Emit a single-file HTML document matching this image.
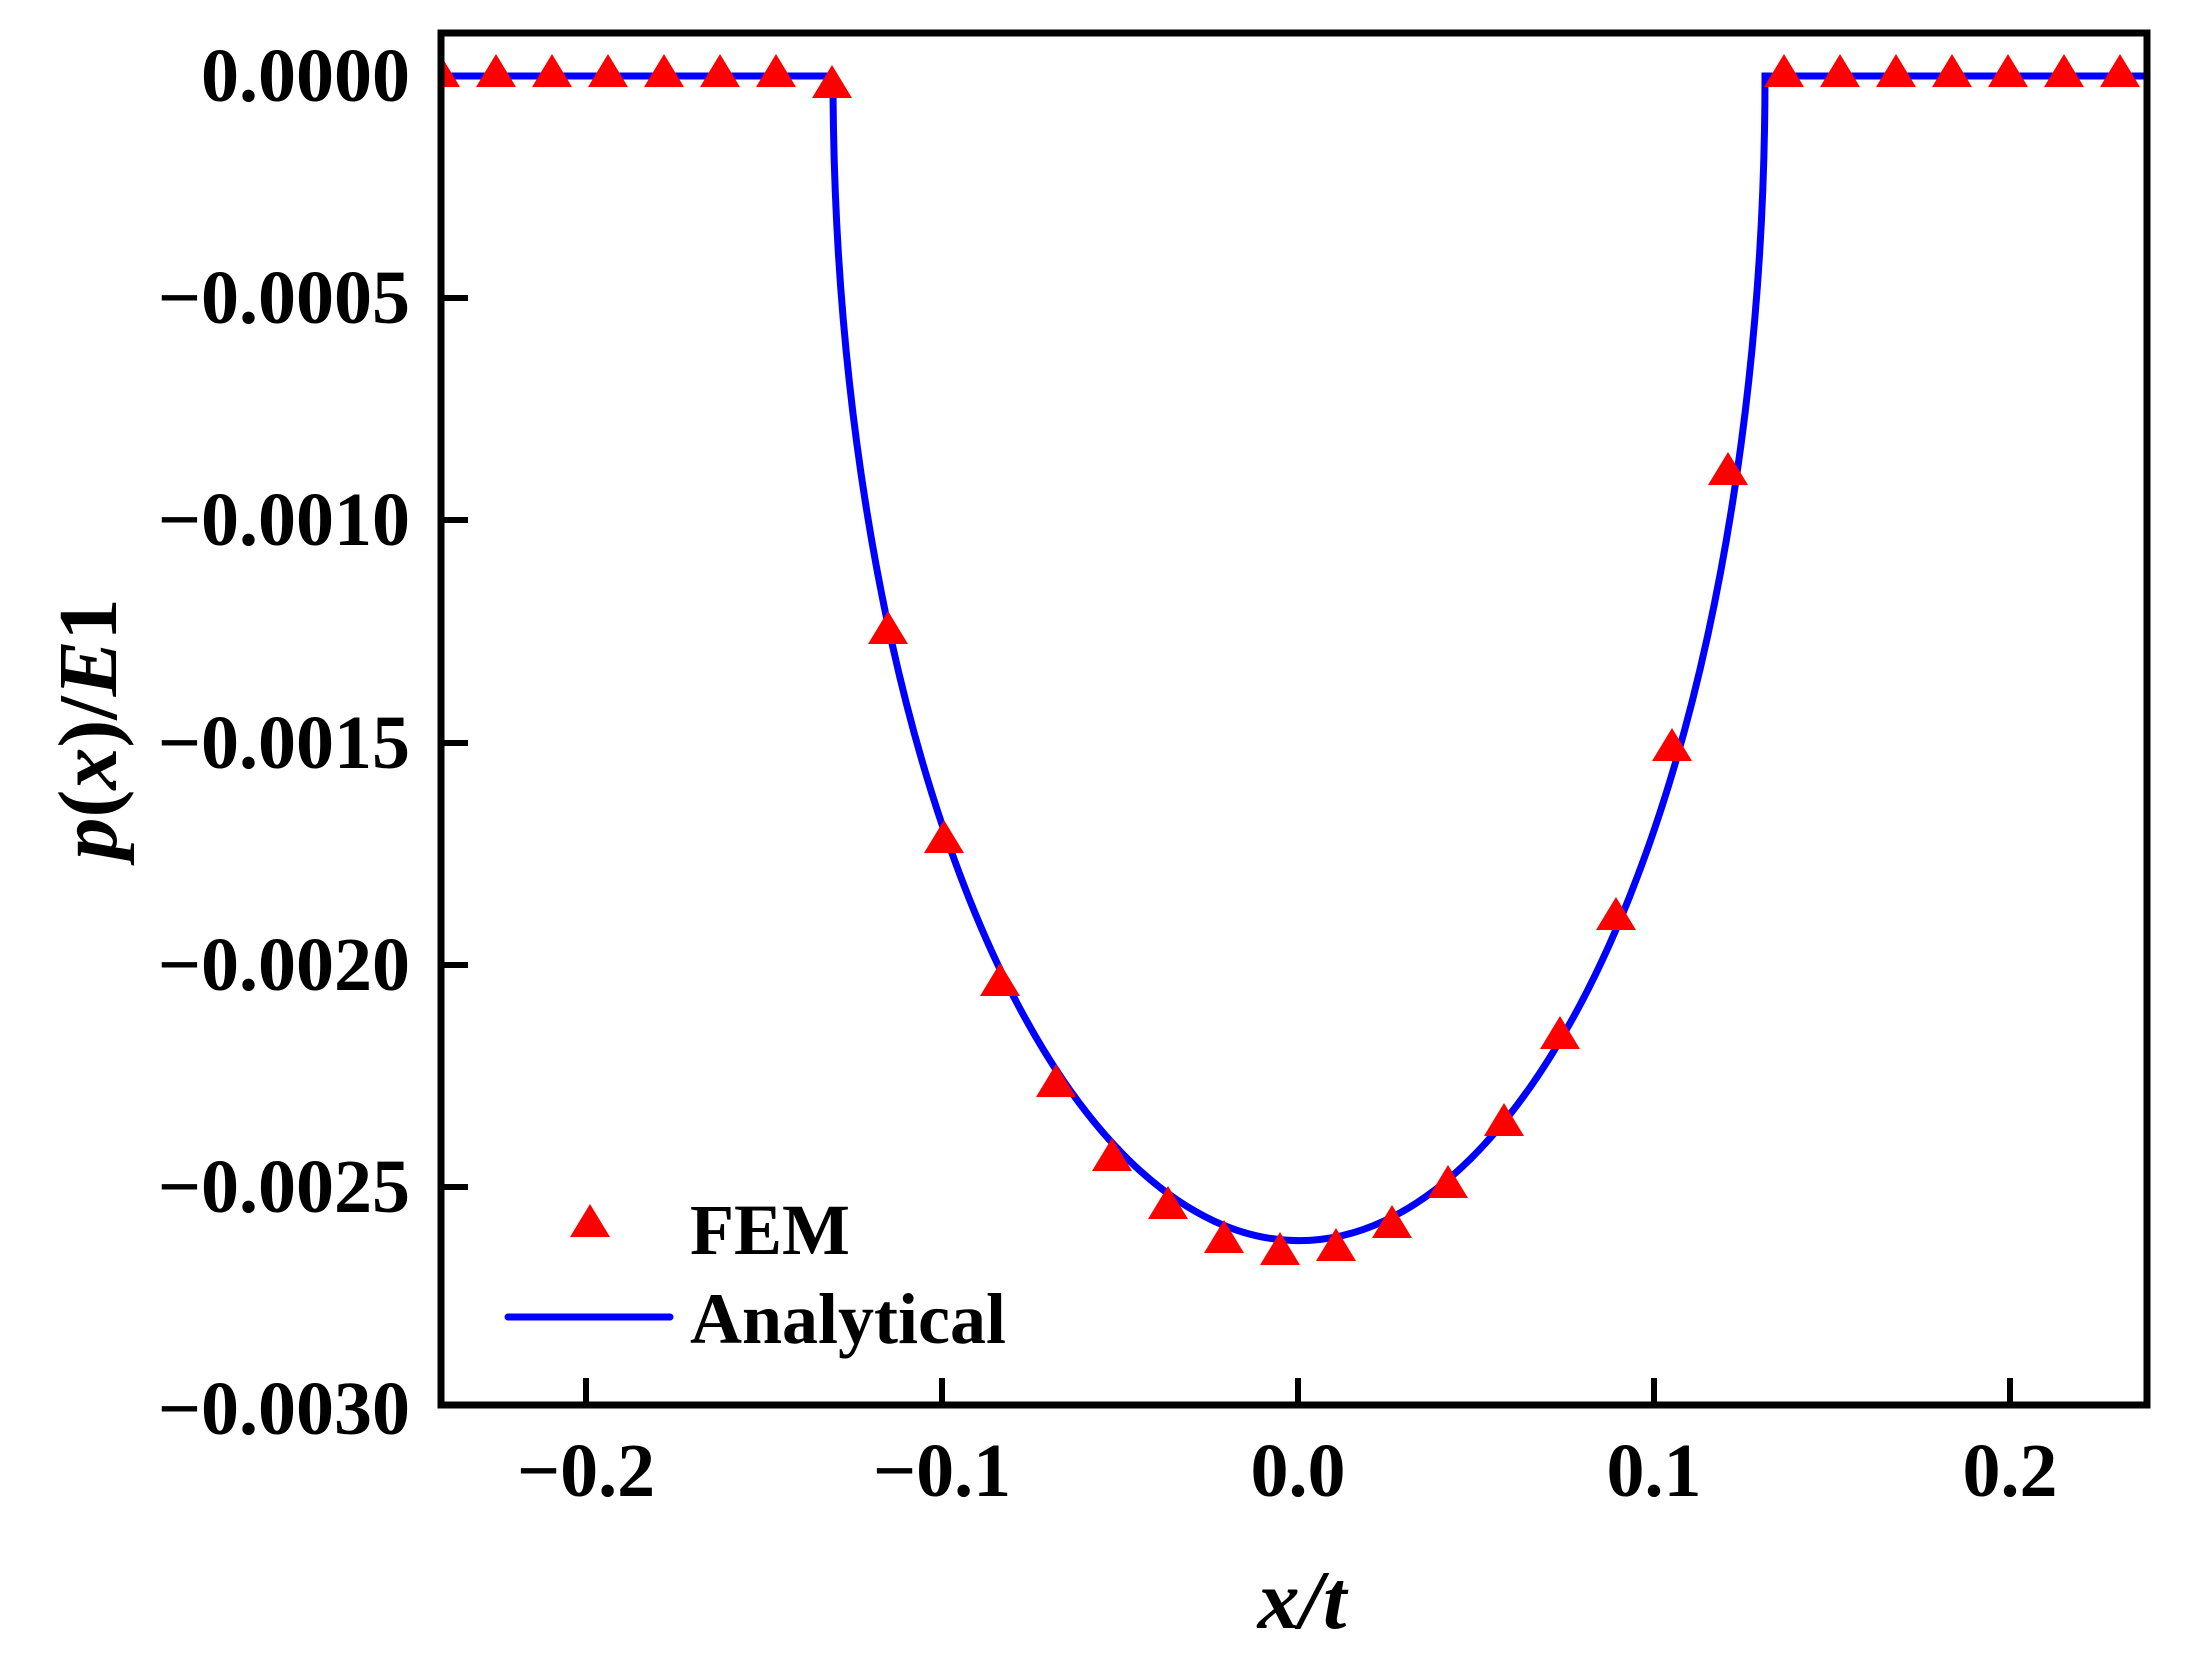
<!DOCTYPE html>
<html><head><meta charset="utf-8"><style>
html,body{margin:0;padding:0;background:#fff;}
svg text{font-family:"Liberation Serif",serif;font-weight:bold;fill:#000;}
</style></head><body>
<svg width="2186" height="1666" viewBox="0 0 2186 1666" xmlns="http://www.w3.org/2000/svg">
<rect width="2186" height="1666" fill="#fff"/>
<defs><clipPath id="c"><rect x="441" y="33" width="1706" height="1372"/></clipPath></defs>
<g clip-path="url(#c)">
<path d="M440 76 H833 A466 1165 0 0 0 1765 76 H2147" fill="none" stroke="#0000ff" stroke-width="7"/>
<g fill="#ff0000">
<path d="M440 54 l20 33 h-40z"/><path d="M496 54 l20 33 h-40z"/><path d="M552 54 l20 33 h-40z"/><path d="M608 54 l20 33 h-40z"/><path d="M664 54 l20 33 h-40z"/><path d="M720 54 l20 33 h-40z"/><path d="M776 54 l20 33 h-40z"/>
<path d="M832 65 l20 33 h-40z"/>
<path d="M888 611 l20 33 h-40z"/>
<path d="M944 820 l20 33 h-40z"/>
<path d="M1000 963 l20 33 h-40z"/>
<path d="M1056 1064 l20 33 h-40z"/>
<path d="M1112 1138 l20 33 h-40z"/>
<path d="M1168 1186 l20 33 h-40z"/>
<path d="M1224 1220 l20 33 h-40z"/>
<path d="M1280 1232 l20 33 h-40z"/>
<path d="M1336 1228 l20 33 h-40z"/>
<path d="M1392 1205 l20 33 h-40z"/>
<path d="M1448 1165 l20 33 h-40z"/>
<path d="M1504 1103 l20 33 h-40z"/>
<path d="M1560 1016 l20 33 h-40z"/>
<path d="M1616 897 l20 33 h-40z"/>
<path d="M1672 728 l20 33 h-40z"/>
<path d="M1728 452 l20 33 h-40z"/>
<path d="M1784 54 l20 33 h-40z"/><path d="M1840 54 l20 33 h-40z"/><path d="M1896 54 l20 33 h-40z"/><path d="M1952 54 l20 33 h-40z"/><path d="M2008 54 l20 33 h-40z"/><path d="M2064 54 l20 33 h-40z"/><path d="M2120 54 l20 33 h-40z"/>
</g>
</g>
<rect x="441" y="33" width="1706" height="1372" fill="none" stroke="#000" stroke-width="7"/>
<g stroke="#000" stroke-width="6">
<line x1="441" y1="298" x2="468" y2="298"/><line x1="441" y1="520" x2="468" y2="520"/><line x1="441" y1="743" x2="468" y2="743"/><line x1="441" y1="965" x2="468" y2="965"/><line x1="441" y1="1187" x2="468" y2="1187"/>
<line x1="586" y1="1405" x2="586" y2="1378"/><line x1="942" y1="1405" x2="942" y2="1378"/><line x1="1298" y1="1405" x2="1298" y2="1378"/><line x1="1654" y1="1405" x2="1654" y2="1378"/><line x1="2010" y1="1405" x2="2010" y2="1378"/>
</g>
<g font-size="76" text-anchor="end">
<text x="410" y="101">0.0000</text>
<text x="410" y="323">−0.0005</text>
<text x="410" y="545">−0.0010</text>
<text x="410" y="768">−0.0015</text>
<text x="410" y="990">−0.0020</text>
<text x="410" y="1212">−0.0025</text>
<text x="410" y="1434">−0.0030</text>
</g>
<g font-size="76" text-anchor="middle">
<text x="586" y="1496">−0.2</text>
<text x="942" y="1496">−0.1</text>
<text x="1298" y="1496">0.0</text>
<text x="1654" y="1496">0.1</text>
<text x="2010" y="1496">0.2</text>
</g>
<text x="1302" y="1628" font-size="84" font-style="italic" text-anchor="middle">x/t</text>
<text transform="translate(116,729) rotate(-90)" font-size="84" text-anchor="middle"><tspan font-style="italic">p</tspan>(<tspan font-style="italic">x</tspan>)/<tspan font-style="italic">E</tspan>1</text>
<path d="M590 1204 l20 33 h-40z" fill="#ff0000"/>
<text x="690" y="1254" font-size="72">FEM</text>
<line x1="508" y1="1317" x2="670" y2="1317" stroke="#0000ff" stroke-width="7" stroke-linecap="round"/>
<text x="690" y="1343" font-size="72">Analytical</text>
</svg>
</body></html>
